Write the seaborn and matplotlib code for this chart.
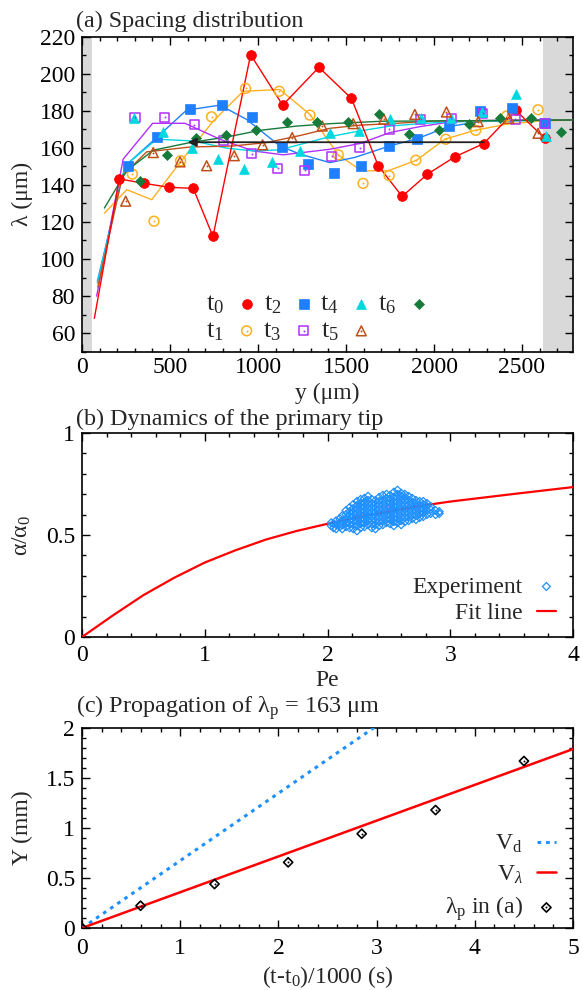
import matplotlib
matplotlib.use("Agg")
import matplotlib.pyplot as plt
import seaborn as sns
from matplotlib.ticker import MultipleLocator, FuncFormatter
from matplotlib.legend_handler import HandlerTuple

# ---------------- (a) spacing distribution ----------------
# t0: first entry is the line start (no marker)
t0_pos = [70, 212, 354, 494, 632, 744, 958, 1140, 1346, 1531, 1683, 1819, 1963, 2118, 2283, 2464, 2629]
t0_lam = [68, 143.2, 140.8, 138.7, 138.1, 112.2, 210.2, 183, 203.4, 186.6, 150.3, 133.8, 145.8, 155.1, 162.3, 180.3, 165.1]

t1_pos = [286, 409, 560, 736, 929, 1121, 1295, 1456, 1597, 1745, 1897, 2067, 2237, 2412, 2591]
t1_lam = [145.8, 120.4, 153, 176.7, 192, 190.5, 177.6, 156.2, 140.8, 145, 153.3, 164.6, 169.4, 177.1, 180.5]
t1_fit_pos = [127, 254, 396, 557, 746, 916, 1124, 1295, 1456, 1588, 1740, 1901, 2061, 2232, 2412, 2601, 2790]
t1_fit_lam = [124.7, 137.4, 132, 152.1, 174.4, 190.5, 191.4, 178, 156.2, 147.6, 147.6, 153.3, 164.6, 169.4, 172.7, 174.4, 175]

t2_pos = [259, 424, 613, 793, 967, 1134, 1285, 1431, 1583, 1743, 1906, 2084, 2260, 2446, 2629]
t2_lam = [150.3, 166, 180.7, 183, 176.7, 160.5, 151.2, 146.2, 150.3, 161, 164.6, 171.7, 179.8, 181.6, 173.5]
t2_fit_pos = [87, 230, 254, 424, 594, 784, 935, 1124, 1238, 1408, 1550, 1749, 1910, 2080, 2260, 2450, 2790]
t2_fit_lam = [88, 145, 151, 165.5, 180.3, 183, 175.3, 161, 156.6, 152, 154.8, 161, 165.1, 171.4, 174.1, 174.7, 175]

t3_pos = [301, 469, 637, 806, 963, 1113, 1265, 1418, 1578, 1747, 1926, 2099, 2278, 2462, 2627]
t3_lam = [176.6, 176.6, 172.3, 163.7, 156.9, 148.9, 148, 155.3, 160.1, 170, 175.5, 175.9, 178.5, 175.3, 173]
t3_fit_pos = [83, 234, 401, 585, 784, 973, 1143, 1408, 1579, 1749, 1919, 2090, 2260, 2790]
t3_fit_lam = [80, 153.9, 173.2, 173.2, 164.6, 158.3, 156.2, 159.2, 162.3, 168.2, 171.4, 173.9, 174.7, 175]

t4_pos = [295, 462, 626, 774, 922, 1077, 1238, 1408, 1575, 1749, 1928, 2099, 2275, 2468, 2638]
t4_lam = [175.9, 168.7, 159.8, 153.9, 148.5, 152.6, 158.3, 168, 169.1, 175.4, 175.9, 175.9, 179.3, 189.1, 166.4]
t4_fit_pos = [87, 230, 254, 424, 632, 822, 973, 1124, 1408, 1579, 1749, 1919, 2090, 2790]
t4_fit_lam = [87, 145, 151, 164.6, 163.7, 159.8, 158.3, 158.9, 166, 169.1, 171.7, 173, 174, 175]

t5_pos = [248, 405, 557, 708, 865, 1026, 1194, 1365, 1541, 1715, 1891, 2071, 2251, 2425, 2591]
t5_lam = [131.2, 157.4, 152.4, 150.3, 155.7, 161.6, 165.5, 171.7, 173, 175.4, 178, 179.3, 174.1, 175.9, 167.8]
t5_fit_pos = [90, 230, 367, 613, 859, 1049, 1238, 1408, 1579, 1749, 1995, 2790]
t5_fit_lam = [85, 145, 157.8, 160.4, 161, 162.8, 166.6, 170.5, 172.2, 173, 174.4, 175]

t6_pos = [329, 484, 647, 816, 986, 1162, 1336, 1512, 1687, 1857, 2027, 2199, 2374, 2550, 2724]
t6_lam = [141.9, 156.2, 165.5, 166.8, 169.4, 174.1, 174.1, 174.1, 178, 167.6, 169.6, 172.7, 175.9, 175.9, 168.7]
t6_fit_pos = [127, 254, 405, 613, 822, 1011, 1219, 1408, 1700, 2790]
t6_fit_lam = [127.5, 147.6, 158.7, 162.8, 165.8, 169.4, 171.7, 173, 174.3, 175]

arrow_from = (2283, 163)
arrow_to = (600, 163)
gray_left = (0, 55)
gray_right = (2620, 2790)

# ---------------- (b) primary tip ----------------
exp_pe = [2.03, 2.03,
          2.05, 2.05,
          2.07, 2.07, 2.07,
          2.10, 2.10, 2.10,
          2.12, 2.12, 2.12, 2.12,
          2.15, 2.15, 2.15, 2.15, 2.15,
          2.18, 2.18, 2.18, 2.18, 2.18, 2.18,
          2.21, 2.21, 2.21, 2.21, 2.21, 2.21, 2.21,
          2.24, 2.24, 2.24, 2.24, 2.24, 2.24, 2.24, 2.24,
          2.27, 2.27, 2.27, 2.27, 2.27, 2.27, 2.27, 2.27,
          2.30, 2.30, 2.30, 2.30, 2.30, 2.30, 2.30, 2.30,
          2.33, 2.33, 2.33, 2.33, 2.33, 2.33, 2.33, 2.33,
          2.36, 2.36, 2.36, 2.36, 2.36, 2.36, 2.36, 2.36,
          2.39, 2.39, 2.39, 2.39, 2.39, 2.39, 2.39, 2.39,
          2.42, 2.42, 2.42, 2.42, 2.42, 2.42, 2.42, 2.42,
          2.45, 2.45, 2.45, 2.45, 2.45, 2.45, 2.45, 2.45,
          2.48, 2.48, 2.48, 2.48, 2.48, 2.48, 2.48, 2.48,
          2.51, 2.51, 2.51, 2.51, 2.51, 2.51, 2.51, 2.51,
          2.54, 2.54, 2.54, 2.54, 2.54, 2.54, 2.54, 2.54, 2.54,
          2.57, 2.57, 2.57, 2.57, 2.57, 2.57, 2.57, 2.57, 2.57,
          2.60, 2.60, 2.60, 2.60, 2.60, 2.60, 2.60, 2.60, 2.60,
          2.63, 2.63, 2.63, 2.63, 2.63, 2.63, 2.63, 2.63,
          2.66, 2.66, 2.66, 2.66, 2.66, 2.66, 2.66,
          2.69, 2.69, 2.69, 2.69, 2.69, 2.69,
          2.72, 2.72, 2.72, 2.72, 2.72, 2.72,
          2.75, 2.75, 2.75, 2.75, 2.75,
          2.78, 2.78, 2.78, 2.78, 2.78,
          2.81, 2.81, 2.81, 2.81,
          2.84, 2.84, 2.84,
          2.88, 2.88,
          2.91, 2.91]
exp_alpha = [0.545, 0.56,
             0.535, 0.555,
             0.53, 0.55, 0.57,
             0.54, 0.56, 0.58,
             0.53, 0.55, 0.57, 0.595,
             0.54, 0.56, 0.58, 0.60, 0.62,
             0.535, 0.555, 0.575, 0.595, 0.615, 0.635,
             0.53, 0.55, 0.57, 0.59, 0.61, 0.63, 0.65,
             0.52, 0.545, 0.565, 0.585, 0.605, 0.625, 0.645, 0.665,
             0.535, 0.555, 0.575, 0.595, 0.615, 0.635, 0.655, 0.675,
             0.54, 0.56, 0.58, 0.60, 0.62, 0.64, 0.66, 0.68,
             0.55, 0.57, 0.59, 0.61, 0.63, 0.65, 0.67, 0.69,
             0.535, 0.555, 0.575, 0.595, 0.615, 0.635, 0.655, 0.675,
             0.53, 0.55, 0.57, 0.59, 0.61, 0.63, 0.65, 0.67,
             0.545, 0.565, 0.585, 0.605, 0.625, 0.645, 0.665, 0.685,
             0.55, 0.57, 0.59, 0.61, 0.63, 0.65, 0.67, 0.695,
             0.56, 0.58, 0.60, 0.62, 0.64, 0.66, 0.68, 0.70,
             0.555, 0.575, 0.595, 0.615, 0.635, 0.655, 0.675, 0.695,
             0.545, 0.565, 0.585, 0.605, 0.625, 0.645, 0.665, 0.685, 0.71,
             0.56, 0.58, 0.60, 0.62, 0.64, 0.66, 0.68, 0.70, 0.72,
             0.55, 0.57, 0.59, 0.61, 0.63, 0.65, 0.67, 0.69, 0.705,
             0.565, 0.585, 0.605, 0.625, 0.645, 0.665, 0.685, 0.70,
             0.57, 0.59, 0.61, 0.63, 0.65, 0.67, 0.69,
             0.58, 0.60, 0.62, 0.64, 0.66, 0.68,
             0.575, 0.595, 0.615, 0.635, 0.655, 0.67,
             0.585, 0.605, 0.625, 0.645, 0.665,
             0.59, 0.61, 0.63, 0.65, 0.665,
             0.60, 0.62, 0.64, 0.655,
             0.605, 0.625, 0.64,
             0.60, 0.62,
             0.605, 0.615]
fit_pe = [0, 0.25, 0.5, 0.75, 1.0, 1.25, 1.5, 1.75, 2.0, 2.25, 2.5, 2.75, 3.0, 3.5, 4.0]
fit_alpha = [0, 0.105, 0.205, 0.29, 0.365, 0.425, 0.478, 0.52, 0.555, 0.588, 0.615, 0.642, 0.664, 0.70, 0.735]

# ---------------- (c) propagation ----------------
vd_t = [0, 5]
vd_y = [0, 3.37]
vl_t = [0, 5]
vl_y = [0, 1.79]
lp_t = [0, 0.596, 1.349, 2.099, 2.848, 3.60, 4.50]
lp_y = [0, 0.223, 0.44, 0.657, 0.943, 1.18, 1.67]

sns.set_theme(style="ticks")
plt.rcParams["font.family"] = ["Liberation Serif", "DejaVu Serif"]
plt.rcParams["mathtext.fontset"] = "custom"
plt.rcParams["mathtext.rm"] = "Liberation Serif"
plt.rcParams["mathtext.it"] = "Liberation Serif:italic"
plt.rcParams["axes.linewidth"] = 1.2
plt.rcParams["axes.edgecolor"] = "black"

TICK = 17
TXT = 17

fig = plt.figure(figsize=(5.83, 9.90), dpi=100)
ax_a = fig.add_axes([0.1407, 0.6447, 0.8422, 0.3184])
ax_b = fig.add_axes([0.1407, 0.3566, 0.8422, 0.2060])
ax_c = fig.add_axes([0.1407, 0.0626, 0.8422, 0.2020])


def style_axes(ax, xpad):
    ax.tick_params(which="both", direction="in", top=True, right=True,
                   labelsize=TICK, colors="black", width=1.0, pad=5)
    ax.tick_params(axis="x", pad=xpad)
    ax.tick_params(which="major", length=6)
    ax.tick_params(which="minor", length=3)
    ax.xaxis.set_major_formatter(FuncFormatter(lambda v, p: f"{v:g}"))
    ax.yaxis.set_major_formatter(FuncFormatter(lambda v, p: f"{v:g}"))
    ax.yaxis.set_label_coords(-0.10, 0.5)


def marks(ax, x, y, color, marker, s, hollow=False, dot=False, lw=1.1):
    if hollow:
        sns.scatterplot(x=x, y=y, ax=ax, marker=marker, s=s, color=color,
                        facecolor="none", edgecolor=color, linewidth=lw, zorder=4)
    else:
        sns.scatterplot(x=x, y=y, ax=ax, marker=marker, s=s, color=color,
                        edgecolor=color, linewidth=0.5, zorder=4)
    h = ax.collections[-1]
    if dot:
        sns.scatterplot(x=x, y=y, ax=ax, marker="o", s=2, color=color,
                        edgecolor=color, linewidth=0, zorder=5)
        h = (h, ax.collections[-1])
    return h


def line(ax, x, y, color, lw, ls="-"):
    sns.lineplot(x=x, y=y, ax=ax, color=color, lw=lw, linestyle=ls,
                 sort=False, estimator=None, zorder=3)
    return ax.lines[-1]


overlay = {tuple: HandlerTuple(ndivide=1, pad=0)}

# ---- panel a
red, yellow, blue, purple = "#ff0000", "#ffb020", "#1f80ff", "#b030ff"
cyan, brown, green = "#00d8e0", "#c0501a", "#157a3a"

ax_a.axvspan(*gray_left, color="#d9d9d9", lw=0, zorder=0)
ax_a.axvspan(*gray_right, color="#d9d9d9", lw=0, zorder=0)

line(ax_a, t1_fit_pos, t1_fit_lam, yellow, 1.0)
line(ax_a, t2_fit_pos, t2_fit_lam, blue, 1.0)
line(ax_a, t3_fit_pos, t3_fit_lam, purple, 1.0)
line(ax_a, t4_fit_pos, t4_fit_lam, cyan, 1.0)
line(ax_a, t5_fit_pos, t5_fit_lam, brown, 1.0)
line(ax_a, t6_fit_pos, t6_fit_lam, green, 1.0)
line(ax_a, t0_pos, t0_lam, red, 1.0)

h0 = marks(ax_a, t0_pos[1:], t0_lam[1:], red, "o", 50)
h1 = marks(ax_a, t1_pos, t1_lam, yellow, "o", 50, hollow=True, dot=True)
h2 = marks(ax_a, t2_pos, t2_lam, blue, "s", 42)
h3 = marks(ax_a, t3_pos, t3_lam, purple, "s", 42, hollow=True, dot=True)
h4 = marks(ax_a, t4_pos, t4_lam, cyan, "^", 50)
h5 = marks(ax_a, t5_pos, t5_lam, brown, "^", 50, hollow=True, dot=True)
h6 = marks(ax_a, t6_pos, t6_lam, green, "D", 26)

ax_a.annotate("", xy=arrow_to, xytext=arrow_from, zorder=6,
              arrowprops=dict(arrowstyle="-|>", color="#222222", lw=1.3,
                              mutation_scale=13, shrinkA=0, shrinkB=0))

ax_a.set_xlim(0, 2790)
ax_a.set_ylim(50, 220)
ax_a.xaxis.set_major_locator(MultipleLocator(500))
ax_a.xaxis.set_minor_locator(MultipleLocator(100))
ax_a.yaxis.set_major_locator(MultipleLocator(20))
ax_a.yaxis.set_minor_locator(MultipleLocator(10))
style_axes(ax_a, 4)
ax_a.set_xlabel("y (μm)", fontsize=TXT, labelpad=3)
ax_a.set_ylabel("λ (μm)", fontsize=TXT)
ax_a.legend([h0, h1, h2, h3, h4, h5, h6],
            ["t$_0$", "t$_1$", "t$_2$", "t$_3$", "t$_4$", "t$_5$", "t$_6$"],
            handler_map=overlay,
            ncol=4, markerfirst=False, frameon=False, fontsize=19,
            loc="center", bbox_to_anchor=(0.477, 0.108),
            handlelength=0.6, handletextpad=0.55, columnspacing=0.33,
            labelspacing=0.12, borderpad=0, borderaxespad=0)

# ---- panel b
hb1 = marks(ax_b, exp_pe, exp_alpha, "#1e90ff", "D", 16, hollow=True, lw=0.9)
hb2 = line(ax_b, fit_pe, fit_alpha, red, 1.6)
ax_b.set_xlim(0, 4)
ax_b.set_ylim(0, 1)
ax_b.xaxis.set_major_locator(MultipleLocator(1))
ax_b.xaxis.set_minor_locator(MultipleLocator(0.2))
ax_b.yaxis.set_major_locator(MultipleLocator(0.5))
ax_b.yaxis.set_minor_locator(MultipleLocator(0.1))
style_axes(ax_b, 6)
ax_b.set_xlabel("Pe", fontsize=TXT, labelpad=3)
ax_b.set_ylabel("α/α$_0$", fontsize=TXT)
ax_b.legend([hb1, hb2], ["Experiment", "Fit line"], markerfirst=False,
            frameon=False, fontsize=TXT, loc="center right",
            bbox_to_anchor=(0.965, 0.181), handlelength=0.8,
            handletextpad=0.6, labelspacing=0.2, borderpad=0, borderaxespad=0)

# ---- panel c
hc1 = line(ax_c, vd_t, vd_y, "#1e90ff", 2.2, ls=(0, (1.2, 1.6)))
hc2 = line(ax_c, vl_t, vl_y, red, 1.8)
hc3 = marks(ax_c, lp_t, lp_y, "black", "D", 22, hollow=True, dot=True, lw=1.2)
ax_c.set_xlim(0, 5)
ax_c.set_ylim(0, 2)
ax_c.xaxis.set_major_locator(MultipleLocator(1))
ax_c.xaxis.set_minor_locator(MultipleLocator(0.2))
ax_c.yaxis.set_major_locator(MultipleLocator(0.5))
ax_c.yaxis.set_minor_locator(MultipleLocator(0.1))
style_axes(ax_c, 7)
ax_c.set_xlabel("(t-t$_0$)/1000 (s)", fontsize=TXT, labelpad=4)
ax_c.set_ylabel("Y (mm)", fontsize=TXT)
ax_c.legend([hc1, hc2, hc3], ["V$_\\mathrm{d}$", "V$_\\lambda$", "λ$_\\mathrm{p}$ in (a)"],
            handler_map=overlay,
            markerfirst=False, frameon=False, fontsize=TXT, loc="center right",
            bbox_to_anchor=(0.965, 0.25), handlelength=0.8,
            handletextpad=0.6, labelspacing=0.35, borderpad=0, borderaxespad=0)

fig.text(0.13, 0.973, "(a) Spacing distribution", fontsize=17.4, va="baseline")
fig.text(0.13, 0.5707, "(b) Dynamics of the primary tip", fontsize=17.4, va="baseline")
fig.text(0.13, 0.2798, "(c) Propagation of λ$_\\mathrm{p}$ = 163 μm", fontsize=17.4, va="baseline")

fig.savefig("out.png", dpi=100)
